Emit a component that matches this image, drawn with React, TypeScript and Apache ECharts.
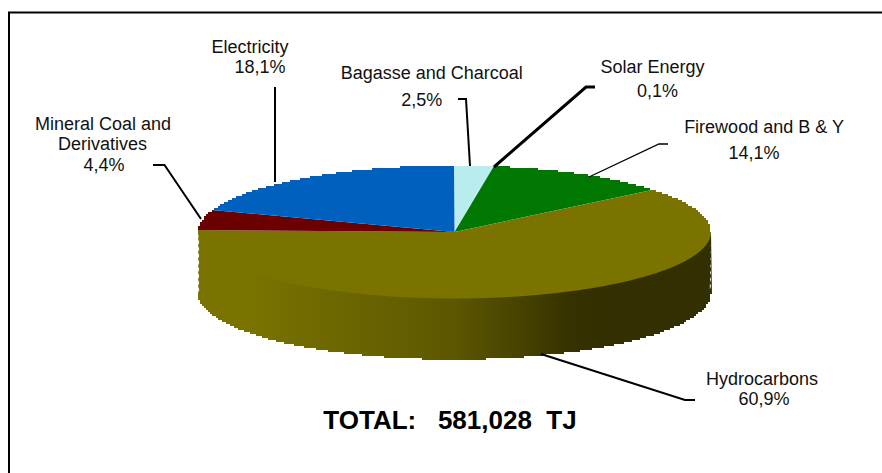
import React, { useEffect, useRef } from "react";
import * as echarts from "echarts";

// Printed shares of each slice (percent), as labelled in the reference.
const sliceNames = [
  "Bagasse and Charcoal",
  "Solar Energy",
  "Firewood and B & Y",
  "Hydrocarbons",
  "Mineral Coal and Derivatives",
  "Electricity",
];
const printedShares = ["2,5%", "0,1%", "14,1%", "60,9%", "4,4%", "18,1%"];
// Angular sweep of each slice as it is actually drawn on the tilted pie (degrees).
const drawnSweeps = [8.6, 0.4, 41.7, 221.3, 17.4, 70.6];
const totalLabel = "TOTAL:   581,028  TJ";

const sliceColors = ["#B9ECEC", "#B9ECEC", "#007700", "#7A7300", "#6B0000", "#0060BD"];

const W = 882;
const H = 473;
const CX = 454.5;
const CY = 232;
const RX = 256.5;
const RY = 66.5;
const DEPTH = 61;

const pt = (deg: number, dy = 0): number[] => {
  const t = (deg * Math.PI) / 180;
  return [CX + RX * Math.sin(t), CY - RY * Math.cos(t) + dy];
};

const arcPoints = (a: number, b: number, dy = 0): number[][] => {
  const n = Math.max(2, Math.ceil((b - a) / 0.5));
  const out: number[][] = [];
  for (let i = 0; i <= n; i++) out.push(pt(a + ((b - a) * i) / n, dy));
  return out;
};

// The reference's silhouette is a pixel staircase rather than a smooth curve.
const stepped = (a: number, b: number, dy = 0): number[][] => {
  const n = Math.max(2, Math.ceil((b - a) / 0.2));
  const out: number[][] = [];
  for (let i = 0; i <= n; i++) {
    const [x, y] = pt(a + ((b - a) * i) / n, dy);
    const q = [Math.round(x / 2) * 2, Math.round(y / 2) * 2];
    const last = out[out.length - 1];
    if (!last) out.push(q);
    else if (last[0] !== q[0] || last[1] !== q[1]) {
      out.push([q[0], last[1]], q);
    }
  }
  return out;
};

const toothedSide = (x: number, y0: number, y1: number): number[][] => {
  const out: number[][] = [];
  const count = Math.round(Math.abs(y1 - y0) / 3.3);
  const step = (y1 - y0) / count;
  for (let k = 0; k < count; k++) {
    const o = k % 2 === 0 ? 0 : 1.2;
    out.push([x + (x < CX ? o : -o), y0 + k * step]);
  }
  return out;
};

const wallGradient = new echarts.graphic.LinearGradient(
  CX - RX,
  0,
  CX + RX,
  0,
  [
    { offset: 0, color: "#7A7300" },
    { offset: 0.1, color: "#7A7300" },
    { offset: 0.2, color: "#726C00" },
    { offset: 0.5, color: "#5C5700" },
    { offset: 0.74, color: "#343000" },
    { offset: 1, color: "#322F00" },
  ],
  true,
);

// text, centre x, centre y for every label line
const labelLayout: { idx: number; lines: (string | null)[]; xs: number[]; ys: number[] }[] = [
  { idx: 5, lines: ["Electricity", null], xs: [250, 260], ys: [47, 67] },
  { idx: 4, lines: ["Mineral Coal and", "Derivatives", null], xs: [103, 102.5, 104], ys: [124, 144, 165] },
  { idx: 0, lines: ["Bagasse and Charcoal", null], xs: [431.7, 421.7], ys: [73, 100] },
  { idx: 1, lines: ["Solar Energy", null], xs: [652.5, 657.5], ys: [67, 91] },
  { idx: 2, lines: ["Firewood and B & Y", null], xs: [764, 754], ys: [127, 153] },
  { idx: 3, lines: ["Hydrocarbons", null], xs: [762, 764], ys: [379, 399] },
];

const leaders: { points: number[][]; width: number }[] = [
  { points: [[275, 87], [275, 182]], width: 2 },
  { points: [[153, 165], [164.5, 165], [201, 219]], width: 2 },
  { points: [[458, 99], [466, 99], [470, 166]], width: 2 },
  { points: [[595, 87], [586, 87], [494, 167]], width: 3 },
  { points: [[668, 144], [659, 144], [589, 177]], width: 1.3 },
  { points: [[541, 354], [685, 400], [695, 400]], width: 2 },
];

export default function App() {
  const ref = useRef<HTMLDivElement>(null);
  useEffect(() => {
    document.body.style.margin = "0";
    const chart = echarts.init(ref.current!, undefined, { renderer: "svg" });
    let acc = 0;
    const ranges = drawnSweeps.map((s) => {
      const r = [acc, acc + s];
      acc += s;
      return r;
    });
    const textEls: any[] = [];
    labelLayout.forEach((l) => {
      l.lines.forEach((line, i) => {
        textEls.push({
          type: "text",
          x: l.xs[i],
          y: l.ys[i],
          style: {
            text: line === null ? printedShares[l.idx] : line,
            fill: "#111",
            font: '18px "Liberation Sans", Arial, sans-serif',
            align: "center",
            verticalAlign: "middle",
          },
        });
      });
    });
    chart.setOption({
      animation: false,
      backgroundColor: "#fff",
      graphic: [
        {
          type: "polyline",
          shape: { points: [[9, H], [9, 12.5], [W, 12.5]] },
          style: { stroke: "#000", lineWidth: 2, fill: "none" },
          z: 1,
        },
        ...leaders.map((l) => ({
          type: "polyline",
          shape: { points: l.points },
          style: { stroke: "#000", lineWidth: l.width, fill: "none" },
          z: 10,
        })),
        ...textEls.map((t) => ({ ...t, z: 10 })),
        {
          type: "text",
          x: 450,
          y: 420,
          z: 10,
          style: {
            text: totalLabel,
            fill: "#000",
            font: 'bold 26px "Liberation Sans", Arial, sans-serif',
            align: "center",
            verticalAlign: "middle",
          },
        },
      ],
      series: [
        {
          type: "custom",
          coordinateSystem: "none",
          silent: true,
          z: 2,
          data: sliceNames.map((name, i) => ({ name, value: [drawnSweeps[i], i] })),
          renderItem: (_: any, api: any) => {
            const i = api.value(1);
            const [a, b] = ranges[i];
            const children: any[] = [];
            const wa = Math.max(a, 90);
            const wb = Math.min(b, 270);
            if (wb > wa) {
              // The wall's upper edge runs under the top face, so no seam shows between them.
              const top = [pt(wa), ...arcPoints(wa + 4, wb - 4, -3), pt(wb)];
              const bottom = stepped(wa, wb, DEPTH).reverse();
              const rightSide = toothedSide(CX + RX, CY, CY + DEPTH);
              const leftSide = toothedSide(CX - RX, CY + DEPTH, CY);
              children.push({
                type: "polygon",
                shape: { points: [...top, ...leftSide.reverse(), ...bottom, ...rightSide] },
                style: { fill: wallGradient, stroke: "none" },
              });
            }
            // Top face: stepped along the back rim, smooth where it meets the wall.
            const rim: number[][] = [];
            const splitA = Math.min(b, 90);
            const splitB = Math.max(a, 270);
            if (splitA > a) rim.push(...stepped(a, splitA));
            if (b > 90 && a < 270) rim.push(...arcPoints(Math.max(a, 90), Math.min(b, 270)));
            if (b > splitB) rim.push(...stepped(splitB, b));
            children.push({
              type: "polygon",
              shape: { points: [[CX, CY], ...rim] },
              style: { fill: sliceColors[i], stroke: "none" },
            });
            return { type: "group", children };
          },
        },
      ],
    });
    return () => chart.dispose();
  }, []);
  return <div ref={ref} style={{ width: W, height: H }} />;
}
